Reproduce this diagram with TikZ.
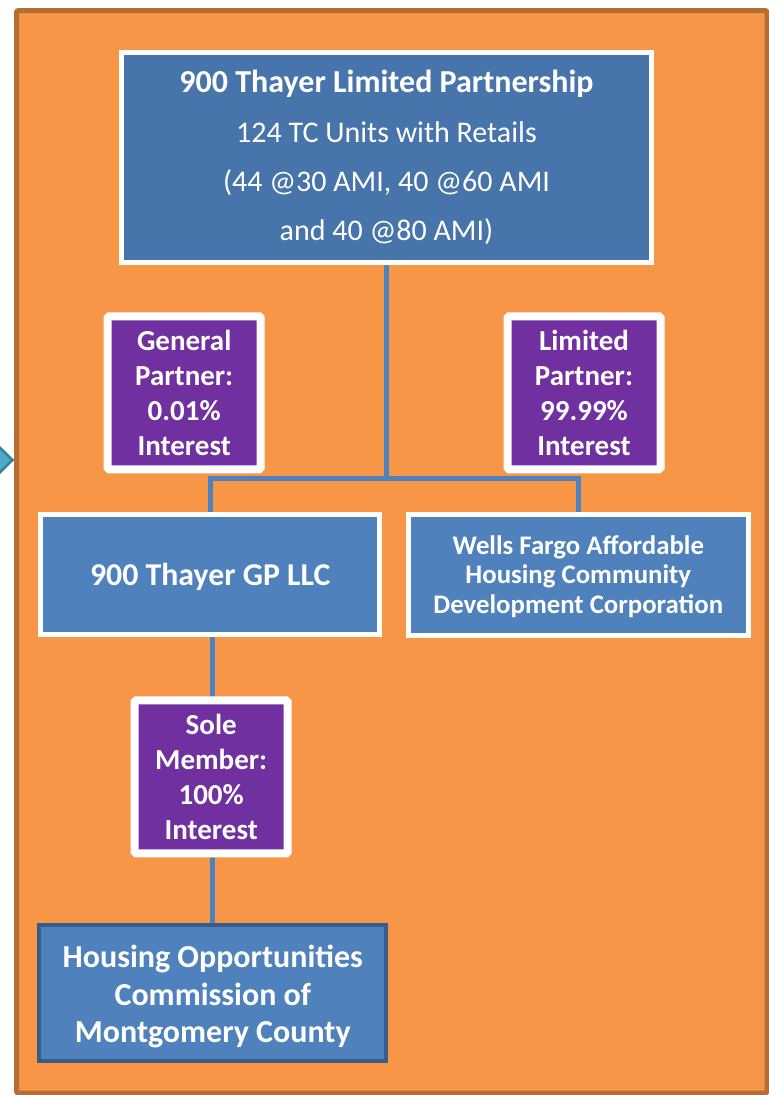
\documentclass[tikz,border=0pt]{standalone}
\usepackage{fontspec}
\setmainfont{Carlito}
\usetikzlibrary{shadows}
\definecolor{orangebg}{RGB}{247,150,70}
\definecolor{orangeln}{RGB}{182,109,51}
\definecolor{topblue}{RGB}{71,116,170}
\definecolor{midblue}{RGB}{79,129,189}
\definecolor{darkblue}{RGB}{56,93,138}
\definecolor{purp}{RGB}{112,48,160}
\definecolor{chevfill}{RGB}{75,172,198}
\definecolor{chevline}{RGB}{49,132,155}
\begin{document}
\begin{tikzpicture}[x=1bp,y=-1bp,
  wbox/.style={draw=white, line width=5bp, fill=midblue, text=white, align=center, inner sep=0pt,
     drop shadow={opacity=0.25, shadow xshift=1.5bp, shadow yshift=-1.5bp}},
  partbox/.style={draw=white, line width=8bp, fill=purp, text=white, align=center, inner sep=0pt,
     minimum width=153bp, minimum height=153bp, rounded corners=1.5bp,
     font=\fontsize{29bp}{35bp}\selectfont\bfseries,
     drop shadow={opacity=0.25, shadow xshift=1.5bp, shadow yshift=-1.5bp}},
  conn/.style={draw=midblue, line width=5bp}]
\useasboundingbox (0,0) rectangle (769,1095);
% outer frame
\draw[fill=orangebg, draw=orangeln, line width=5bp, rounded corners=2bp] (16.5,10.5) rectangle (767,1093);
% chevron at left edge
\draw[fill=chevfill, draw=chevline, line width=2.5bp] (-12,436) -- (12.5,460) -- (-12,484) -- cycle;

% boxes
\node[wbox, fill=topblue, minimum width=530bp, minimum height=210bp,
      font=\fontsize{30bp}{49.3bp}\selectfont] (top) at (386.5,157.5)
  {{\fontsize{32bp}{49.3bp}\selectfont\bfseries 900 Thayer Limited Partnership}\\
   124 TC Units with Retails\\ (44 @30 AMI, 40 @60 AMI\\ and 40 @80 AMI)};

\node[wbox, minimum width=339bp, minimum height=120.6bp,
      font=\fontsize{31.8bp}{37bp}\selectfont\bfseries] (gp) at (210.3,574.5)
  {\raisebox{-2bp}[\height][\depth]{900 Thayer GP LLC}};

\node[wbox, minimum width=339.7bp, minimum height=121bp,
      font=\fontsize{26.8bp}{29.5bp}\selectfont\bfseries] (wf) at (578.3,574.7)
  {\raisebox{-3bp}[\height][\depth]{\begin{tabular}{@{}c@{}}Wells Fargo Affordable\\ Housing Community\\ Development Corporation\end{tabular}}};

\node[wbox, draw=darkblue, line width=4bp, minimum width=347bp, minimum height=136bp,
      font=\fontsize{32bp}{37.5bp}\selectfont\bfseries] (hoc) at (212.8,992.7)
  {\raisebox{-5bp}[\height][\depth]{\begin{tabular}{@{}c@{}}Housing Opportunities\\ Commission of\\ Montgomery County\end{tabular}}};

% connectors
\coordinate (j) at (386.5,478.3);
\draw[conn] (top.south) -- (j);
\draw[conn] (gp.north) |- (j) -| (wf.north);
\coordinate (gpb) at (212,637);
\coordinate (hoct) at (212,923);
\draw[conn] (gpb) -- (hoct);

% ownership labels
\node[partbox] (gen) at (184.2,392.8) {General\\ Partner:\\ 0.01\%\\ Interest};
\node[partbox] (lim) at (584,392.8) {Limited\\ Partner:\\ 99.99\%\\ Interest};
\node[partbox] (sole) at (211.2,776.9) {Sole\\ Member:\\ 100\%\\ Interest};
\end{tikzpicture}
\end{document}
